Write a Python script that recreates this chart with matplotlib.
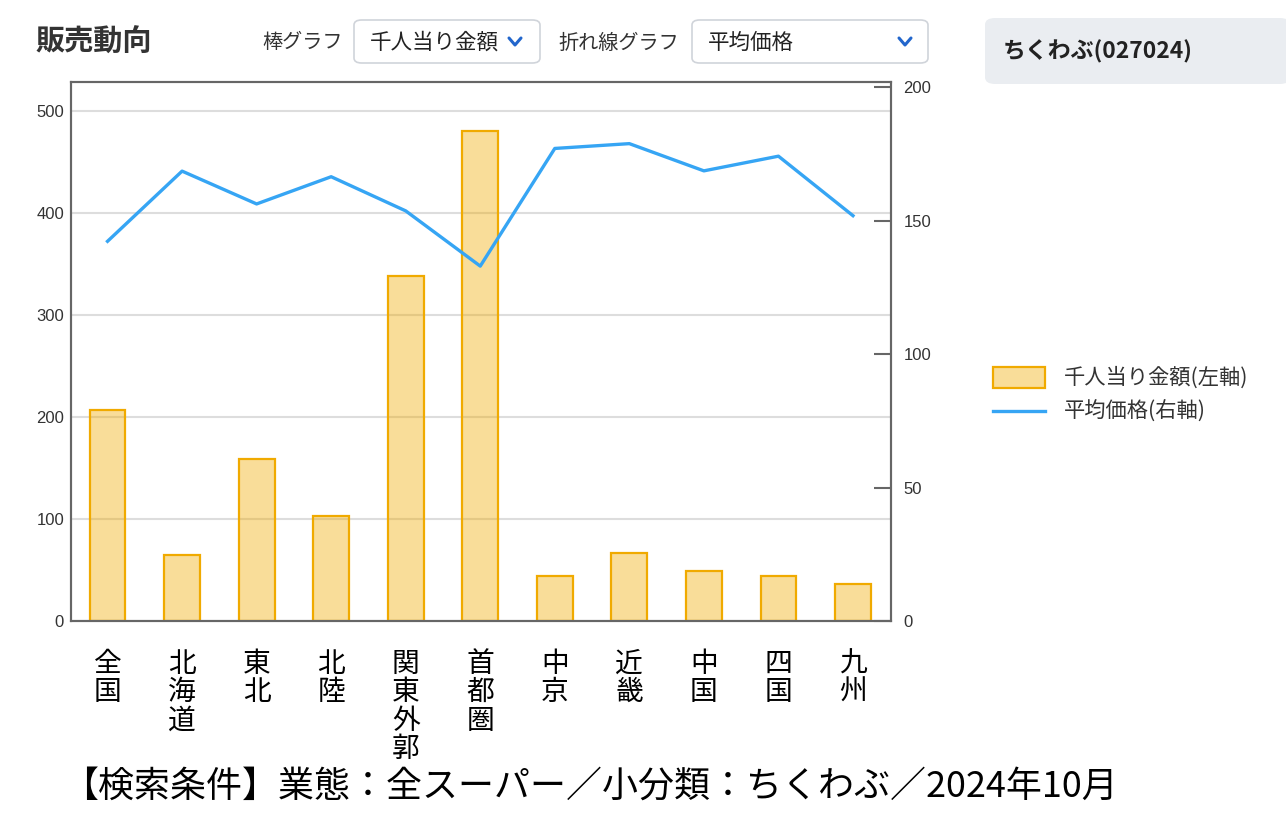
import matplotlib
matplotlib.use("Agg")
import matplotlib.pyplot as plt
from matplotlib.patches import FancyBboxPatch, Rectangle
from matplotlib.lines import Line2D

plt.rcParams['font.family'] = ['Noto Sans CJK JP', 'DejaVu Sans']

regions = ["全国", "北海道", "東北", "北陸", "関東外郭", "首都圏", "中京", "近畿", "中国", "四国", "九州"]
amount_per_1000 = [207, 65, 159, 103, 338, 480, 44, 67, 49, 44, 36]
avg_price = [142.3, 168.6, 156.3, 166.5, 153.7, 133.0, 177.1, 178.9, 168.7, 174.2, 151.9]
left_ticks = [0, 100, 200, 300, 400, 500]
right_ticks = [0, 50, 100, 150, 200]

W, H = 1286, 834
fig = plt.figure(figsize=(W / 100, H / 100), dpi=100)

def fx(px):
    return px / W

def fy(py):
    return 1 - py / H

ax = fig.add_axes([fx(71), fy(621), fx(891) - fx(71), fy(82) - fy(621)])
ax2 = ax.twinx()

x = list(range(len(regions)))
ax.bar(x, amount_per_1000, width=0.48, color=(240/255, 170/255, 0, 0.40),
       edgecolor='#f0aa00', linewidth=1.6, zorder=2)
ax.set_xlim(-0.49, 10.51)
ax.set_ylim(0, 528)
ax.set_yticks(left_ticks)
ax.yaxis.grid(True, color='#dddddd', linewidth=1.5, zorder=0)
ax.set_axisbelow(True)
ax.tick_params(axis='y', length=0, labelsize=12, labelcolor='#333333', pad=5)
ax.set_yticklabels([str(t) for t in left_ticks], family=['Liberation Sans', 'DejaVu Sans'])
ax.set_xticks(x)
ax.set_xticklabels(['\n'.join(r) for r in regions], fontsize=20, color='black',
                   linespacing=0.93, va='top')
ax.tick_params(axis='x', length=0, pad=20)
for s in ax.spines.values():
    s.set_color('#666666')
    s.set_linewidth(1.5)

ax2.plot(x, avg_price, color='#36a5f4', linewidth=2.4, zorder=3)
ax2.set_ylim(0, 202)
ax2.set_yticks(right_ticks)
ax2.set_yticklabels([str(t) for t in right_ticks], family=['Liberation Sans', 'DejaVu Sans'])
ax2.tick_params(axis='y', direction='in', length=12, width=1.5, color='#666666',
                labelsize=12, labelcolor='#333333', pad=9)
for s in ax2.spines.values():
    s.set_color('#666666')
    s.set_linewidth(1.5)
ax.set_zorder(ax2.get_zorder() - 1)
ax.patch.set_visible(True)
ax2.patch.set_visible(False)

# Header
fig.text(fx(35), fy(42), "販売動向", fontsize=21, fontweight='bold', color='#333333', va='center')
fig.text(fx(262), fy(43), "棒グラフ", fontsize=14.5, color='#333333', va='center')
fig.text(fx(558), fy(43), "折れ線グラフ", fontsize=14.5, color='#333333', va='center')

for (x0, x1, label, chev) in [(354, 540, "千人当り金額", 515), (692, 928, "平均価格", 905)]:
    box = FancyBboxPatch((fx(x0), fy(63)), fx(x1) - fx(x0), fy(20) - fy(63),
                         boxstyle="round,pad=0,rounding_size=0.006",
                         transform=fig.transFigure, facecolor='white',
                         edgecolor='#d0d4da', linewidth=1.2)
    fig.add_artist(box)
    fig.text(fx(x0 + 16), fy(43), label, fontsize=15.5, color='#222222', va='center')
    fig.add_artist(Line2D([fx(chev - 6), fx(chev), fx(chev + 6)], [fy(38), fy(45), fy(38)],
                          transform=fig.transFigure, color='#2266cc', linewidth=2.2,
                          solid_capstyle='round', solid_joinstyle='round'))

# Right panel
panel = FancyBboxPatch((fx(985), fy(84)), fx(1290) - fx(985), fy(18) - fy(84),
                       boxstyle="round,pad=0,rounding_size=0.008",
                       transform=fig.transFigure, facecolor='#eaedf1', edgecolor='none')
fig.add_artist(panel)
fig.text(fx(1003), fy(52), "ちくわぶ(027024)", fontsize=16.5, fontweight='bold',
         color='#222222', va='center')

# Legend
fig.add_artist(Rectangle((fx(993), fy(388)), fx(1045) - fx(993), fy(367) - fy(388),
                         transform=fig.transFigure, facecolor=(240/255, 170/255, 0, 0.40),
                         edgecolor='#f0aa00', linewidth=1.6))
fig.text(fx(1064), fy(378), "千人当り金額(左軸)", fontsize=15.3, color='#333333', va='center')
fig.add_artist(Line2D([fx(993), fx(1045)], [fy(411), fy(411)], transform=fig.transFigure,
                      color='#36a5f4', linewidth=2.4))
fig.text(fx(1064), fy(412), "平均価格(右軸)", fontsize=15.3, color='#333333', va='center')

# Footer
fig.text(fx(62), fy(787), "【検索条件】業態：全スーパー／小分類：ちくわぶ／2024年10月",
         fontsize=25.9, color='black', va='center')

fig.savefig("out.png", dpi=100)
